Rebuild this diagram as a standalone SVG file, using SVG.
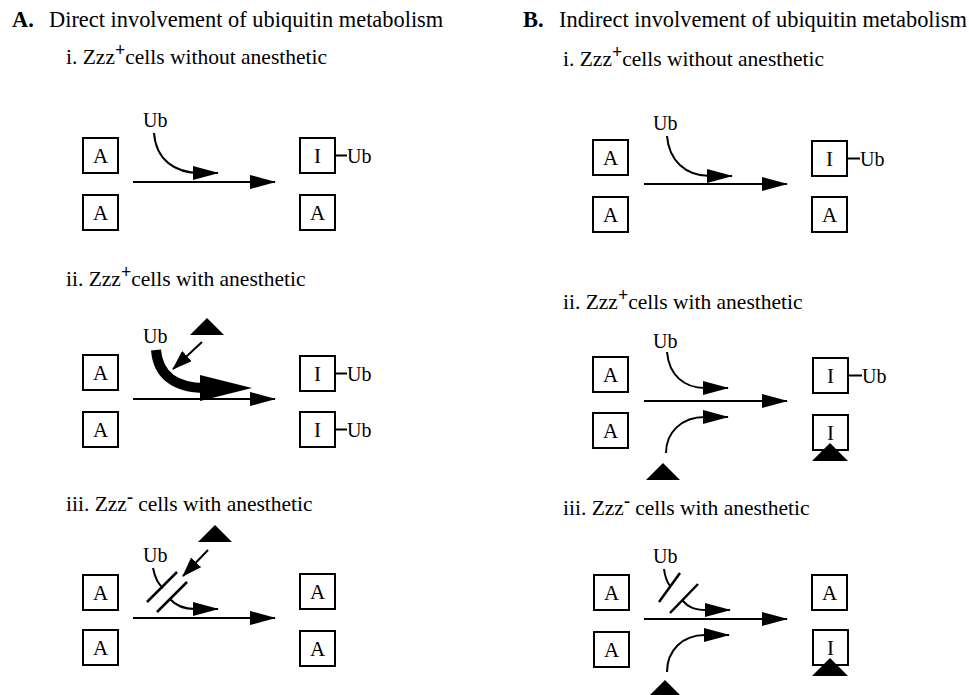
<svg xmlns="http://www.w3.org/2000/svg" width="969" height="695" viewBox="0 0 969 695">
<style>
text{font-family:"Liberation Serif","Times New Roman",serif;fill:#000}
.h{font-size:22.4px}
.hb{font-size:22.4px;font-weight:bold}
.s{font-size:21.5px}
.sup{font-size:18px;font-weight:bold}
.box{fill:#fff;stroke:#000;stroke-width:2}
.lbl{font-size:21px;text-anchor:middle}
.ub{font-size:20px}
.ln{fill:none;stroke:#000;stroke-width:2}
.thick{fill:none;stroke:#000;stroke-width:10}
.sl{stroke:#000;stroke-width:2.5}
.tri{fill:#000}
</style>
<defs>
<marker id="head" markerUnits="userSpaceOnUse" markerWidth="26" markerHeight="14" viewBox="0 0 26 14" refX="25" refY="7" orient="auto"><path d="M0,0 L26,7 L0,14 Z" fill="#000"/></marker>
<marker id="small" markerUnits="userSpaceOnUse" markerWidth="20" markerHeight="14" viewBox="0 0 20 14" refX="19" refY="7" orient="auto"><path d="M0,0 L20,7 L0,14 Z" fill="#000"/></marker>
</defs>

<!-- headings -->
<text class="hb" x="12" y="27">A.</text>
<text class="h" x="49" y="27">Direct involvement of ubiquitin metabolism</text>
<text class="hb" x="523" y="27">B.</text>
<text class="h" x="559" y="27">Indirect involvement of ubiquitin metabolism</text>

<text class="s" x="66" y="64">i. Zzz<tspan class="sup" dy="-8">+</tspan><tspan dy="8">cells without anesthetic</tspan></text>
<text class="s" x="66" y="286">ii. Zzz<tspan class="sup" dy="-8">+</tspan><tspan dy="8">cells with anesthetic</tspan></text>
<text class="s" x="66" y="511">iii. Zzz<tspan class="sup" dy="-8">-</tspan><tspan dy="8"> cells with anesthetic</tspan></text>
<text class="s" x="563" y="66">i. Zzz<tspan class="sup" dy="-8">+</tspan><tspan dy="8">cells without anesthetic</tspan></text>
<text class="s" x="563" y="309">ii. Zzz<tspan class="sup" dy="-8">+</tspan><tspan dy="8">cells with anesthetic</tspan></text>
<text class="s" x="563" y="515">iii. Zzz<tspan class="sup" dy="-8">-</tspan><tspan dy="8"> cells with anesthetic</tspan></text>

<!-- Panel A i -->
<g id="Ai-A1"><rect class="box" x="83" y="138" width="35" height="35"/><text class="lbl" x="100.5" y="163">A</text></g>
<g id="Ai-A2"><rect class="box" x="83" y="195" width="35" height="35"/><text class="lbl" x="100.5" y="220">A</text></g>
<g id="Ai-I1"><rect class="box" x="300" y="138" width="35" height="35"/><text class="lbl" x="317.5" y="163">I</text><line class="ln" x1="335" y1="155.5" x2="347" y2="155.5"/><text class="ub" x="347" y="163">Ub</text></g>
<g id="Ai-A3"><rect class="box" x="300" y="195" width="35" height="35"/><text class="lbl" x="317.5" y="220">A</text></g>
<text class="ub" x="143" y="127">Ub</text>

<!-- Panel A ii -->
<g id="Aii-A1"><rect class="box" x="83" y="355" width="35" height="35"/><text class="lbl" x="100.5" y="380">A</text></g>
<g id="Aii-A2"><rect class="box" x="83" y="412" width="35" height="35"/><text class="lbl" x="100.5" y="437">A</text></g>
<g id="Aii-I1"><rect class="box" x="300" y="356" width="35" height="35"/><text class="lbl" x="317.5" y="381">I</text><line class="ln" x1="335" y1="373.5" x2="347" y2="373.5"/><text class="ub" x="347" y="381">Ub</text></g>
<g id="Aii-I2"><rect class="box" x="300" y="412" width="35" height="35"/><text class="lbl" x="317.5" y="437">I</text><line class="ln" x1="335" y1="429.5" x2="347" y2="429.5"/><text class="ub" x="347" y="437">Ub</text></g>
<text class="ub" x="143" y="343">Ub</text>
<g id="Aii-anes"><polygon class="tri" points="207,318 190,335 224,335"/></g>

<!-- Panel A iii -->
<g id="Aiii-A1"><rect class="box" x="83" y="575" width="35" height="35"/><text class="lbl" x="100.5" y="600">A</text></g>
<g id="Aiii-A2"><rect class="box" x="83" y="630" width="35" height="35"/><text class="lbl" x="100.5" y="655">A</text></g>
<g id="Aiii-A3"><rect class="box" x="300" y="574" width="35" height="35"/><text class="lbl" x="317.5" y="599">A</text></g>
<g id="Aiii-A4"><rect class="box" x="300" y="631" width="35" height="35"/><text class="lbl" x="317.5" y="656">A</text></g>
<text class="ub" x="143" y="562">Ub</text>
<g id="Aiii-anes"><polygon class="tri" points="215,525 198,542 232,542"/></g>

<!-- Panel B i -->
<g id="Bi-A1"><rect class="box" x="593" y="140" width="35" height="35"/><text class="lbl" x="610.5" y="165">A</text></g>
<g id="Bi-A2"><rect class="box" x="593" y="197" width="35" height="35"/><text class="lbl" x="610.5" y="222">A</text></g>
<g id="Bi-I1"><rect class="box" x="812" y="141" width="35" height="35"/><text class="lbl" x="829.5" y="166">I</text><line class="ln" x1="847" y1="158.5" x2="860" y2="158.5"/><text class="ub" x="860" y="166">Ub</text></g>
<g id="Bi-A3"><rect class="box" x="812" y="197" width="35" height="35"/><text class="lbl" x="829.5" y="222">A</text></g>
<text class="ub" x="653" y="130">Ub</text>

<!-- Panel B ii -->
<g id="Bii-A1"><rect class="box" x="593" y="357" width="35" height="35"/><text class="lbl" x="610.5" y="382">A</text></g>
<g id="Bii-A2"><rect class="box" x="593" y="413" width="35" height="35"/><text class="lbl" x="610.5" y="438">A</text></g>
<g id="Bii-I1"><rect class="box" x="813" y="358" width="35" height="35"/><text class="lbl" x="830.5" y="383">I</text><line class="ln" x1="848" y1="375.5" x2="862" y2="375.5"/><text class="ub" x="862" y="383">Ub</text></g>
<g id="Bii-I2"><rect class="box" x="813" y="415" width="35" height="35"/><text class="lbl" x="830.5" y="440">I</text><polygon class="tri" points="830,443 812,461 848,461"/></g>
<text class="ub" x="653" y="348">Ub</text>
<g id="Bii-anes"><polygon class="tri" points="663,463 646,480 680,480"/></g>

<!-- Panel B iii -->
<g id="Biii-A1"><rect class="box" x="594" y="575" width="35" height="35"/><text class="lbl" x="611.5" y="600">A</text></g>
<g id="Biii-A2"><rect class="box" x="594" y="632" width="35" height="35"/><text class="lbl" x="611.5" y="657">A</text></g>
<g id="Biii-A3"><rect class="box" x="812" y="575" width="35" height="35"/><text class="lbl" x="829.5" y="600">A</text></g>
<g id="Biii-I1"><rect class="box" x="813" y="630" width="35" height="35"/><text class="lbl" x="830.5" y="655">I</text><polygon class="tri" points="830,658 812,676 848,676"/></g>
<text class="ub" x="653" y="563">Ub</text>
<g id="Biii-anes"><polygon class="tri" points="665,680 648,697 682,697"/></g>

<!-- connectors -->
<g id="connectors">
<path class="ln" d="M133,182 L275,182" marker-end="url(#head)"/>
<path class="ln" d="M154,133 C156,160 175,173 200,173 L218,173" marker-end="url(#head)"/>

<path class="ln" d="M133,399 L275,399" marker-end="url(#head)"/>
<path class="thick" d="M156,350 C158,375 175,388 205,388"/>
<polygon class="tri" points="200,375 252,388 200,401"/>
<path class="ln" d="M202,342 L173,369" marker-end="url(#small)"/>

<path class="ln" d="M133,618 L275,618" marker-end="url(#head)"/>
<path class="ln" d="M153,568 C155,578 158,584 163,588"/>
<line class="sl" x1="177" y1="572" x2="147" y2="602"/>
<line class="sl" x1="187" y1="582" x2="157" y2="612"/>
<path class="ln" d="M170,599 C176,606 183,609 195,609 L218,609" marker-end="url(#head)"/>
<path class="ln" d="M208,550 L183,576" marker-end="url(#small)"/>

<path class="ln" d="M644,184 L787,184" marker-end="url(#head)"/>
<path class="ln" d="M667,136 C669,160 685,176 710,176 L732,176" marker-end="url(#head)"/>

<path class="ln" d="M644,401 L787,401" marker-end="url(#head)"/>
<path class="ln" d="M667,352 C669,375 684,388 705,388 L728,388" marker-end="url(#head)"/>
<path class="ln" d="M666,453 C666,432 682,417 705,417 L728,417" marker-end="url(#head)"/>

<path class="ln" d="M644,619 L787,619" marker-end="url(#head)"/>
<path class="ln" d="M664,569 C665,577 667,582 670,586"/>
<line class="sl" x1="680" y1="573" x2="659" y2="602"/>
<line class="sl" x1="698" y1="584" x2="670" y2="613"/>
<path class="ln" d="M682,600 C688,607 694,610 706,610 L730,610" marker-end="url(#head)"/>
<path class="ln" d="M667,672 C667,650 683,635 705,635 L729,635" marker-end="url(#head)"/>
</g>
</svg>
